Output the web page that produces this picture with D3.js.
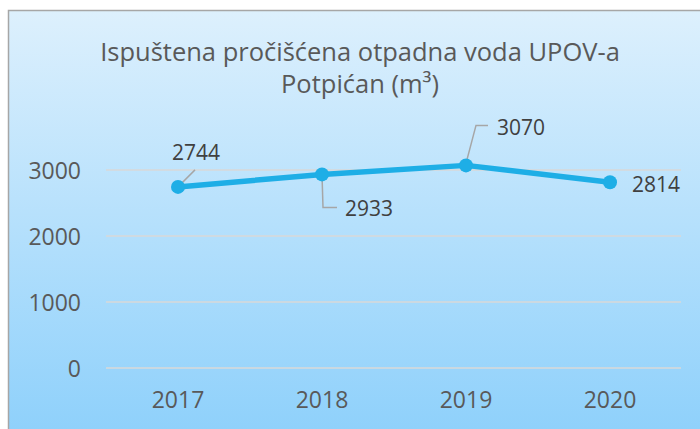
<!DOCTYPE html>
<html>
<head>
<meta charset="utf-8">
<script src="https://cdn.jsdelivr.net/npm/d3@7"></script>
<style>
  body { margin: 0; background: #fff; }
  svg { display: block; font-family: "Open Sans", sans-serif; }
</style>
</head>
<body>
<svg id="chart"></svg>
<script>
const years = ["2017", "2018", "2019", "2020"];
const values = [2744, 2933, 3070, 2814];
const yTicks = [0, 1000, 2000, 3000];
const titleLines = ["Ispuštena pročišćena otpadna voda UPOV-a", "Potpićan (m³)"];

const width = 700, height = 429;
const svg = d3.select("#chart").attr("width", width).attr("height", height);

// background gradient
const defs = svg.append("defs");
const grad = defs.append("linearGradient").attr("id", "bg")
    .attr("x1", 0).attr("y1", 0).attr("x2", 0).attr("y2", 1);
grad.append("stop").attr("offset", "0%").attr("stop-color", "#ddf0fd");
grad.append("stop").attr("offset", "100%").attr("stop-color", "#8dd0fb");

svg.append("rect")
    .attr("x", 8.5).attr("y", 10.5)
    .attr("width", 700).attr("height", 430)
    .attr("fill", "url(#bg)")
    .attr("stroke", "#a6a6a6").attr("stroke-width", 1.5);

const x = d3.scaleBand().domain(years).range([106, 682]);
const y = d3.scaleLinear().domain([0, 3000]).range([368, 170]);

// title
svg.append("text")
    .attr("text-anchor", "middle")
    .attr("fill", "#595959")
    .style("font-size", "25.5px")
    .selectAll("tspan").data(titleLines).enter().append("tspan")
    .attr("x", 360)
    .attr("y", (d, i) => 61 + i * 32)
    .text(d => d);

// gridlines
svg.append("g").selectAll("line").data(yTicks).enter().append("line")
    .attr("x1", 106).attr("x2", 681)
    .attr("y1", d => y(d)).attr("y2", d => y(d))
    .attr("stroke", "#d9d9d9").attr("stroke-width", 1.3);

// y axis labels
const yAxis = d3.axisLeft(y).tickValues(yTicks).tickFormat(d3.format("d")).tickSize(0).tickPadding(0);
const gy = svg.append("g").attr("transform", "translate(81,0)").call(yAxis);
gy.select(".domain").remove();
gy.selectAll("text")
    .attr("fill", "#595959")
    .style("font-family", "'Open Sans', sans-serif")
    .style("font-size", "23px")
    .attr("dy", "0.36em");

// x axis labels
const xAxis = d3.axisBottom(x).tickSize(0).tickPadding(0);
const gx = svg.append("g").attr("transform", "translate(0,392)").call(xAxis);
gx.select(".domain").remove();
gx.selectAll("text")
    .attr("fill", "#595959")
    .style("font-family", "'Open Sans', sans-serif")
    .style("font-size", "23px")
    .attr("dy", "0.7em");

const cx = d => x(d) + x.bandwidth() / 2;

// line
const line = d3.line()
    .x((d, i) => cx(years[i]))
    .y(d => y(d));

svg.append("path")
    .datum(values)
    .attr("d", line)
    .attr("fill", "none")
    .attr("stroke", "#1eaee6")
    .attr("stroke-width", 5.5)
    .attr("stroke-linejoin", "round");

// leader lines
const leaders = [
    [[0, 0], [17, -17]],
    [[0, 0], [1, 33], [15, 33]],
    [[0, -2], [10, -40], [22, -40]],
    null
];
svg.append("g").selectAll("path").data(values).enter().append("path")
    .filter((d, i) => leaders[i])
    .attr("d", (d, i) => d3.line()(leaders[i].map(p => [cx(years[i]) + p[0], y(d) + p[1]])))
    .attr("fill", "none")
    .attr("stroke", "#a6a6a6")
    .attr("stroke-width", 1.5);

svg.append("g").selectAll("circle").data(values).enter().append("circle")
    .attr("cx", (d, i) => cx(years[i]))
    .attr("cy", d => y(d))
    .attr("r", 7)
    .attr("fill", "#1eaee6");

// data labels
const labelOffsets = [[-6, -34], [23, 34], [31, -38], [22, 2]];
svg.append("g").selectAll("text").data(values).enter().append("text")
    .attr("x", (d, i) => cx(years[i]) + labelOffsets[i][0])
    .attr("y", (d, i) => y(d) + labelOffsets[i][1])
    .attr("dy", "0.36em")
    .attr("fill", "#404040")
    .style("font-size", "21px")
    .text(d => d);
</script>
</body>
</html>
